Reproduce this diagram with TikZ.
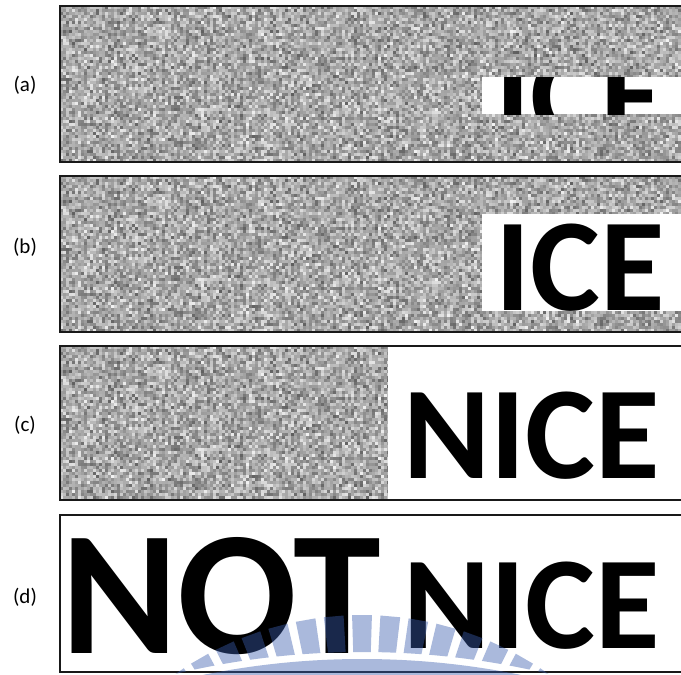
\documentclass[tikz,border=0pt]{standalone}
\usepackage{fontspec}
\newfontfamily\calfont{Carlito}
\definecolor{wm}{RGB}{58,93,174}
\newcommand\noisefield[4]{%
  \pgfmathsetseed{31415}%
  \foreach \i in {0,...,#3}{%
    \foreach \j in {0,...,#4}{%
      \pgfmathrandominteger{\ga}{0}{29}%
      \pgfmathrandominteger{\gb}{0}{29}%
      \pgfmathtruncatemacro\g{5+\ga+\gb}%
      \pgfsetfillcolor{black!\g}%
      \pgfpathrectangle{\pgfpoint{#1pt+\i*3pt}{-#2pt-\j*3pt}}{\pgfpoint{3.3pt}{-3.3pt}}%
      \pgfusepath{fill}%
    }}}
\tikzset{
  bigtext/.style={font=\calfont\bfseries\fontsize{132}{132}\selectfont, inner sep=0pt, anchor=base west},
  hugetext/.style={font=\calfont\bfseries\fontsize{177}{177}\selectfont, inner sep=0pt, anchor=base west},
  lab/.style={font=\calfont\fontsize{21}{21}\selectfont, inner sep=0pt},
  panel/.style={draw=black!90, line width=1.5pt},
  wmfill/.style={fill=wm, fill opacity=0.43}
}
\begin{document}
\begin{tikzpicture}[x=1pt,y=-1pt]
\useasboundingbox (0,0) rectangle (681,675);
\fill[white] (0,0) rectangle (681,675);
% noise backgrounds
\begin{scope}
  \clip (60,6) rectangle (683,162);
  \noisefield{60}{6}{207}{52}
\end{scope}
\begin{scope}
  \clip (60,176) rectangle (683,332);
  \noisefield{60}{176}{207}{52}
\end{scope}
\begin{scope}
  \clip (60,346) rectangle (388,500);
  \noisefield{60}{346}{110}{52}
\end{scope}
% white windows
\fill[white] (482,77) rectangle (683,114);
\fill[white] (482,214) rectangle (683,311);
\fill[white] (388,346) rectangle (683,500);
% texts
\begin{scope}
  \clip (482,77) rectangle (683,114);
  \node[bigtext] (icea) at (495,139) {ICE};
\end{scope}
\node[bigtext] (iceb) at (495,310) {ICE};
\node[bigtext] (nicec) at (403,478) {NICE};
\node[bigtext] (niced) at (403,648) {NICE};
\node[hugetext] (notd) at (61,653) {NOT};
% panel frames
\draw[panel] (60,6) rectangle (685,162);
\draw[panel] (60,176) rectangle (685,332);
\draw[panel] (60,346) rectangle (685,500);
\draw[panel] (60,515) rectangle (685,672);
% labels
\node[lab] (la) at (25,85) {(a)};
\node[lab] (lb) at (25,247) {(b)};
\node[lab] (lc) at (25,425) {(c)};
\node[lab] (ld) at (25,597) {(d)};
% watermark
\begin{scope}
  \clip (0,0) rectangle (681,675);
  \begin{scope}[even odd rule]
    \clip (0,560) rectangle (681,676) (362,1452) circle (800);
    \foreach \a in {-35,-30,...,35}{
      \pgfmathsetmacro\aa{270+\a-1.75}
      \pgfmathsetmacro\ab{270+\a+1.75}
      \fill[wmfill] ([shift={(362,940)}]\aa:200) -- ([shift={(362,940)}]\aa:325)
        -- ([shift={(362,940)}]\ab:325) -- ([shift={(362,940)}]\ab:200) -- cycle;
    }
  \end{scope}
  \fill[wmfill] (362,1452) circle (793);
\end{scope}
\end{tikzpicture}
\end{document}
